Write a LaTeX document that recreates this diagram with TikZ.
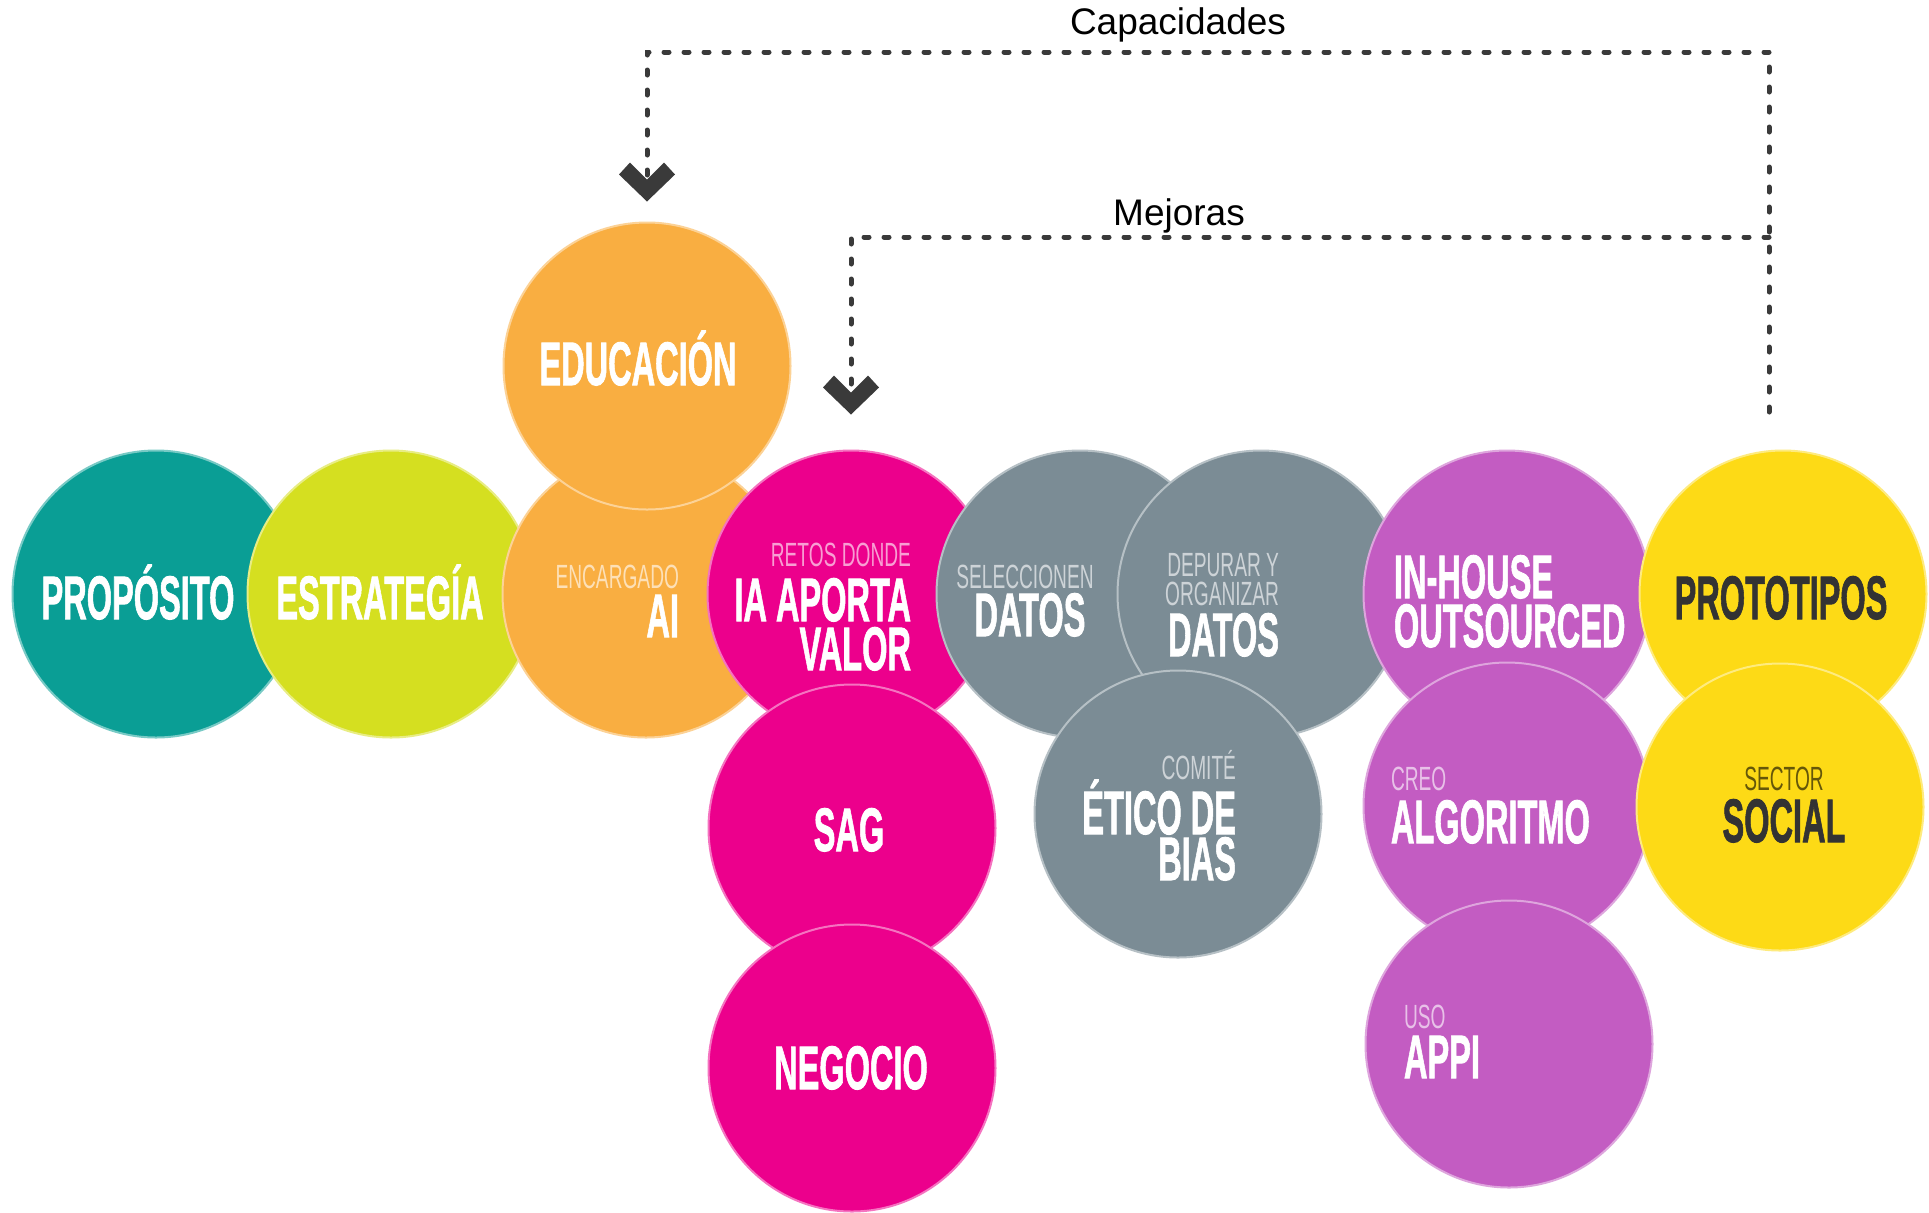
\documentclass[tikz,border=0pt]{standalone}
\usepackage{fontspec}
\setmainfont{Liberation Sans}
\newfontfamily\heavyfont[FakeBold=1.6]{Liberation Sans Bold}
\usetikzlibrary{calc}
\definecolor{cteal}{HTML}{0A9E95}
\definecolor{clime}{HTML}{D5DF20}
\definecolor{corange}{HTML}{F9AE41}
\definecolor{cpink}{HTML}{EC008C}
\definecolor{cgrey}{HTML}{7B8C95}
\definecolor{cpurple}{HTML}{C35CC2}
\definecolor{cyellow}{HTML}{FDDA16}
\definecolor{cdark}{HTML}{333333}
\definecolor{cdash}{HTML}{3A3A3A}
\newcommand\bigtxt[1]{\scalebox{0.53}[1]{\fontsize{30.7}{30.7}\heavyfont #1}}
\newcommand\smalltxt[1]{\scalebox{0.57}[1]{\fontsize{16.8}{16.8}\selectfont #1}}
\begin{document}
\begin{tikzpicture}[x=0.5pt,y=-0.5pt,
  bubble/.style={circle,inner sep=0pt,outer sep=0pt,minimum size=143.5pt,line width=1pt,fill=#1,draw=#1!55!white},
  tx/.style={inner sep=0pt,outer sep=0pt,text=white},
  tsm/.style={inner sep=0pt,outer sep=0pt,text=white!62!#1},
  lbl/.style={inner sep=0pt,outer sep=0pt,text=black,font=\fontsize{18.5}{18.5}\selectfont},
  dashline/.style={draw=cdash,line width=2.5pt,line cap=round,dash pattern=on 2.5pt off 7.5pt},
  chevron/.style={fill=cdash}
]
\fill[white] (0,0) rectangle (1929,1212);
\useasboundingbox (0,0) rectangle (1929,1212);

% circles
\node[bubble=cteal]   (prop)  at (156,594)  {};
\node[bubble=clime]   (estr)  at (391,594)  {};
\node[bubble=corange] (enc)   at (646,594)  {};
\node[bubble=corange] (edu)   at (647,366)  {};
\node[bubble=cpink]   (ia)    at (851,594)  {};
\node[bubble=cpink]   (sag)   at (852,828)  {};
\node[bubble=cpink]   (neg)   at (852,1068) {};
\node[bubble=cgrey]   (sel)   at (1080,594) {};
\node[bubble=cgrey]   (dep)   at (1261,594) {};
\node[bubble=cgrey]   (com)   at (1178,814) {};
\node[bubble=cpurple] (inh)   at (1507,594) {};
\node[bubble=cpurple] (creo)  at (1507,806) {};
\node[bubble=cpurple] (uso)   at (1509,1044){};
\node[bubble=cyellow] (proto) at (1783,594) {};
\node[bubble=cyellow] (soc)   at (1780,807) {};

% texts
\node[tx,anchor=base] (tprop) at (138,619) {\bigtxt{PROPÓSITO}};
\node[tx,anchor=base] (testr) at (380,619) {\bigtxt{ESTRATEGÍA}};
\node[tx,anchor=base] (tedu) at (638,385) {\bigtxt{EDUCACIÓN}};
\node[tsm=corange,anchor=base east] (tenc1) at (679,588) {\smalltxt{ENCARGADO}};
\node[tx,anchor=base east] (tenc2) at (679,637) {\bigtxt{AI}};
\node[tsm=cpink,anchor=base east] (tia1) at (911,566) {\smalltxt{RETOS DONDE}};
\node[tx,anchor=base east] (tia2) at (911,621) {\bigtxt{IA APORTA}};
\node[tx,anchor=base east] (tia3) at (911,670) {\bigtxt{VALOR}};
\node[tsm=cgrey,anchor=base] (tsel1) at (1025,588) {\smalltxt{SELECCIONEN}};
\node[tx,anchor=base] (tsel2) at (1030,636) {\bigtxt{DATOS}};
\node[tsm=cgrey,anchor=base east] (tdep1) at (1279,576) {\smalltxt{DEPURAR Y}};
\node[tsm=cgrey,anchor=base east] (tdep2) at (1279,605) {\smalltxt{ORGANIZAR}};
\node[tx,anchor=base east] (tdep3) at (1279,656) {\bigtxt{DATOS}};
\node[tx,anchor=base west] (tinh1) at (1394,598) {\bigtxt{IN-HOUSE}};
\node[tx,anchor=base west] (tinh2) at (1394,647) {\bigtxt{OUTSOURCED}};
\node[tx,text=cdark,anchor=base] (tproto) at (1781,619) {\bigtxt{PROTOTIPOS}};
\node[tx,anchor=base] (tsag) at (849,851) {\bigtxt{SAG}};
\node[tx,anchor=base] (tneg) at (851,1089) {\bigtxt{NEGOCIO}};
\node[tsm=cgrey,anchor=base east] (tcom1) at (1236,779) {\smalltxt{COMITÉ}};
\node[tx,anchor=base east] (tcom2) at (1236,834) {\bigtxt{ÉTICO DE}};
\node[tx,anchor=base east] (tcom3) at (1236,880) {\bigtxt{BIAS}};
\node[tsm=cpurple,anchor=base west] (tcreo1) at (1391,790) {\smalltxt{CREO}};
\node[tx,anchor=base west] (tcreo2) at (1391,843) {\bigtxt{ALGORITMO}};
\node[tx,text=cyellow!40!black,anchor=base] (tsoc1) at (1784,790) {\smalltxt{SECTOR}};
\node[tx,text=cdark,anchor=base] (tsoc2) at (1784,842) {\bigtxt{SOCIAL}};
\node[tsm=cpurple,anchor=base west] (tuso1) at (1404,1028) {\smalltxt{USO}};
\node[tx,anchor=base west] (tuso2) at (1404,1078) {\bigtxt{APPI}};

% feedback connectors
\coordinate (capStart) at (1769,412);
\coordinate (capCorner) at (1769,52);
\coordinate (mejCorner) at (1769,237);
\coordinate (capTip) at ($(edu.north)+(0,-21)$);
\coordinate (mejTip) at ($(ia.north)+(0,-36)$);
\draw[dashline] (capStart) -- (capCorner) -| ($(capTip)+(0,-22)$);
\draw[dashline] (mejCorner) -| ($(mejTip)+(0,-22)$);
\fill[chevron,shift={(capTip)}] (0,0) -- (-28,-27) -- (-17,-39) -- (0,-22) -- (17,-39) -- (28,-27) -- cycle;
\fill[chevron,shift={(mejTip)}] (0,0) -- (-28,-27) -- (-17,-39) -- (0,-22) -- (17,-39) -- (28,-27) -- cycle;

\node[lbl,anchor=base] (capl) at (1178,34) {Capacidades};
\node[lbl,anchor=base] (mejl) at (1179,225) {Mejoras};
\end{tikzpicture}
\end{document}
